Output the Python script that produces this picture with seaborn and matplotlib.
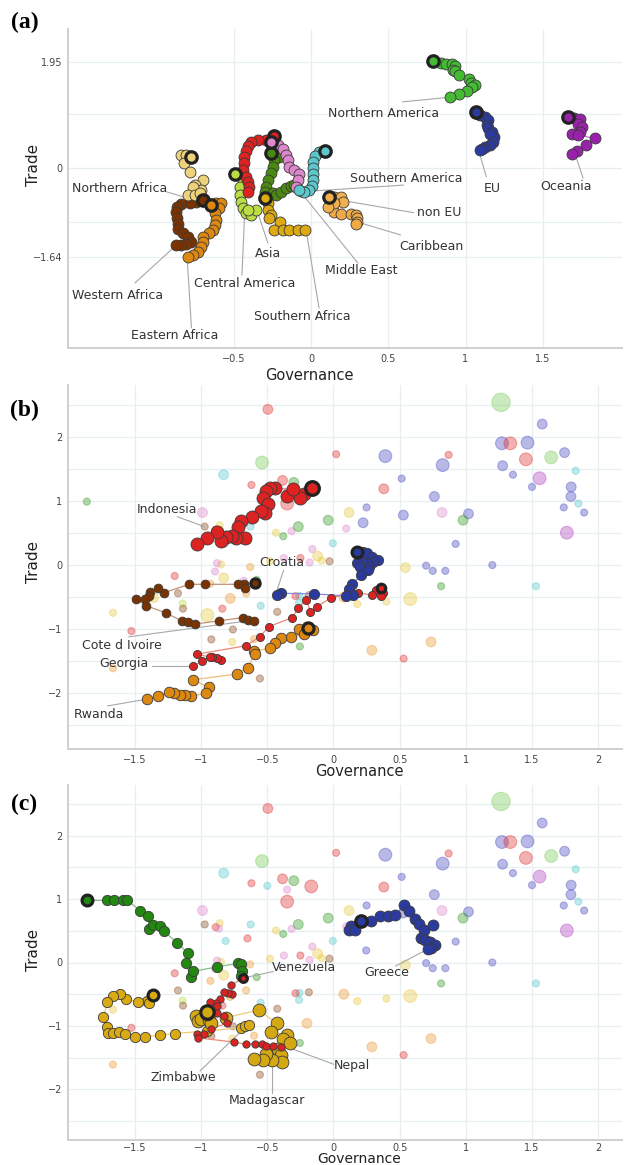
import numpy as np
import pandas as pd
import matplotlib
matplotlib.use("Agg")
import matplotlib.pyplot as plt
import seaborn as sns

sns.set_theme(style="white")
plt.rcParams['font.family'] = ['DejaVu Sans']

# ---------------- Panel (a): regional trajectories ----------------
na_x = [0.79, 0.84, 0.875, 0.914, 0.93, 0.92, 0.935, 0.96, 1.02, 1.037, 1.063, 1.043, 1.01, 0.96, 0.90]
na_y = [1.97, 1.93, 1.91, 1.91, 1.875, 1.80, 1.78, 1.71, 1.64, 1.57, 1.53, 1.49, 1.415, 1.36, 1.31]
eu_x = [1.069, 1.08, 1.097, 1.129, 1.144, 1.14, 1.148, 1.172, 1.183, 1.16, 1.179, 1.161, 1.129, 1.11, 1.097]
eu_y = [1.024, 1.0, 0.974, 0.943, 0.882, 0.79, 0.735, 0.667, 0.575, 0.62, 0.483, 0.423, 0.386, 0.36, 0.331]
oc_x = [1.662, 1.70, 1.742, 1.731, 1.753, 1.742, 1.688, 1.731, 1.839, 1.781, 1.72, 1.688]
oc_y = [0.943, 0.93, 0.913, 0.82, 0.76, 0.667, 0.637, 0.607, 0.546, 0.423, 0.318, 0.257]
sam_x = [0.09, 0.05, 0.026, 0.013, 0.013, 0.013, 0.013, 0.006, -0.013, -0.045, -0.077]
sam_y = [0.32, 0.29, 0.22, 0.11, 0.0, -0.11, -0.22, -0.33, -0.40, -0.44, -0.40]
me_x = [-0.258, -0.215, -0.183, -0.16, -0.15, -0.14, -0.108, -0.075, -0.086, -0.097, -0.065]
me_y = [0.483, 0.42, 0.36, 0.24, 0.147, 0.024, -0.037, -0.10, -0.22, -0.34, -0.43]
dg_x = [-0.258, -0.205, -0.237, -0.247, -0.258, -0.28, -0.29, -0.30, -0.247, -0.226, -0.194, -0.161, -0.129, -0.108]
dg_y = [0.276, 0.208, 0.147, 0.024, -0.098, -0.22, -0.343, -0.435, -0.466, -0.496, -0.435, -0.373, -0.331, -0.312]
as_x = [-0.239, -0.29, -0.342, -0.387, -0.406, -0.419, -0.432, -0.435, -0.439, -0.419, -0.406, -0.40, -0.406]
as_y = [0.588, 0.515, 0.515, 0.478, 0.404, 0.312, 0.202, 0.092, -0.037, -0.16, -0.257, -0.35, -0.44]
ca_x = [-0.495, -0.452, -0.44, -0.462, -0.462, -0.452, -0.44, -0.42, -0.387, -0.355, -0.41]
ca_y = [-0.11, -0.13, -0.22, -0.34, -0.50, -0.62, -0.74, -0.83, -0.86, -0.77, -0.77]
saf_x = [-0.30, -0.28, -0.28, -0.258, -0.269, -0.2, -0.237, -0.18, -0.14, -0.086, -0.039]
saf_y = [-0.557, -0.65, -0.77, -0.86, -0.92, -0.99, -1.14, -1.14, -1.13, -1.13, -1.13]
naf_x = [-0.78, -0.84, -0.81, -0.82, -0.785, -0.70, -0.753, -0.71, -0.763, -0.796, -0.753, -0.72]
naf_y = [0.197, 0.24, 0.25, 0.086, -0.07, -0.22, -0.31, -0.40, -0.34, -0.50, -0.50, -0.45]
waf_x = [-0.699, -0.742, -0.785, -0.839, -0.865, -0.871, -0.865, -0.86, -0.858, -0.828, -0.794, -0.774, -0.806, -0.839, -0.871]
waf_y = [-0.588, -0.625, -0.65, -0.66, -0.72, -0.81, -0.92, -1.02, -1.12, -1.20, -1.26, -1.355, -1.40, -1.415, -1.415]
eaf_x = [-0.65, -0.613, -0.58, -0.594, -0.624, -0.613, -0.624, -0.634, -0.658, -0.699, -0.699, -0.71, -0.731, -0.763, -0.795]
eaf_y = [-0.68, -0.643, -0.65, -0.735, -0.833, -0.956, -1.048, -1.14, -1.195, -1.263, -1.355, -1.447, -1.539, -1.60, -1.64]
neu_x = [0.118, 0.15, 0.194, 0.204, 0.15, 0.108]
neu_y = [-0.527, -0.527, -0.527, -0.62, -0.65, -0.71]
car_x = [0.15, 0.194, 0.258, 0.29, 0.30, 0.30, 0.29]
car_y = [-0.80, -0.846, -0.846, -0.86, -0.925, -0.99, -1.02]

# ---------------- Background countries (panels b, c) ----------------
bg_x = [1.266, 1.577, 1.273, 1.336, 1.466, 1.454, 1.645, 1.746, 1.278, 1.356, 1.557, 1.83, 1.50, 1.796, 1.794,
        1.85, 1.74, 1.894, 1.763, 0.02, 0.392, 0.87, 0.825, 0.515, 0.38, 0.762, 0.25, 0.118, 0.528, 0.82,
        1.02, 0.979, -0.04, 0.224, 0.096, -0.005, 0.923, -0.16, -0.12, -0.09, -0.18, -0.03, -0.496, -0.54, -0.83,
        -0.62, -0.385, -0.30, -0.50, -0.35, -1.864, -0.99, -0.973, -0.86, -0.626, -0.435, -0.38, -0.317, -0.266, -0.815,
        -0.65, -0.375, -0.25, -0.85, -0.88, -0.63, -0.168, -0.35, -0.89, -0.865, -1.2, -0.895, -0.83, -0.677, -0.58,
        -0.93, -1.175, -1.36, -0.78, -0.66, -1.14, -1.137, -0.55, -0.84, -0.425, -1.666, -0.953, -1.527, -0.76, -0.923,
        -0.765, -0.60, -0.254, -1.666, -0.556, -0.257, -0.287, -0.26, 0.543, 0.70, 0.75, 0.845, 1.20, 0.813, 1.53,
        0.078, 0.18, 0.40, 0.58, 0.737, 0.29, 0.53, 0.247, -0.48, -0.186, -0.2]
bg_y = [2.54, 2.20, 1.90, 1.90, 1.91, 1.65, 1.68, 1.755, 1.55, 1.41, 1.355, 1.47, 1.22, 1.22, 1.07,
        0.96, 0.90, 0.82, 0.505, 1.73, 1.70, 1.72, 1.56, 1.35, 1.19, 1.07, 0.90, 0.82, 0.78, 0.82,
        0.80, 0.70, 0.70, 0.66, 0.57, 0.34, 0.33, 0.25, 0.14, 0.07, 0.04, 0.06, 2.43, 1.60, 1.41,
        1.25, 1.32, 1.29, 1.21, 0.96, 0.99, 0.82, 0.60, 0.62, 0.60, 0.505, 0.45, 0.53, 0.60, 0.34,
        0.38, 0.11, 0.11, 0.01, 0.03, -0.03, 1.20, 1.15, 0.556, 0.535, -0.17, -0.10, -0.20, -0.245, -0.23,
        -0.29, -0.44, -0.51, -0.52, -0.44, -0.60, -0.68, -0.635, -0.68, -0.73, -0.745, -0.78, -1.03, -1.005, -1.16,
        -1.20, -1.155, -1.27, -1.61, -1.77, -0.48, -0.485, -0.59, -0.04, -0.01, -0.09, -0.09, 0.0, -0.33, -0.33,
        -0.50, -0.61, -0.57, -0.53, -1.20, -1.33, -1.46, 0.19, 0.06, -0.47, -0.96]
bg_c = ['lgreen', 'blue', 'blue', 'red', 'blue', 'red', 'lgreen', 'blue', 'blue', 'blue', 'magenta', 'cyan', 'blue', 'blue', 'blue',
        'cyan', 'blue', 'blue', 'magenta', 'red', 'blue', 'red', 'blue', 'blue', 'red', 'blue', 'blue', 'yellow', 'blue', 'pink',
        'blue', 'green', 'green', 'blue', 'pink', 'cyan', 'blue', 'pink', 'yellow', 'yellow', 'pink', 'tan', 'red', 'lgreen', 'cyan',
        'red', 'red', 'green', 'cyan', 'red', 'green', 'pink', 'tan', 'yellow', 'cyan', 'yellow', 'green', 'pink', 'green', 'cyan',
        'red', 'pink', 'red', 'yellow', 'pink', 'orange', 'red', 'pink', 'red', 'pink', 'red', 'pink', 'yellow', 'pink', 'green',
        'orange', 'tan', 'yellow', 'orange', 'orange', 'lime', 'tan', 'cyan', 'red', 'tan', 'yellow', 'yellow', 'red', 'tan', 'tan',
        'yellow', 'orange', 'green', 'orange', 'tan', 'cyan', 'red', 'cyan', 'yellow', 'blue', 'blue', 'blue', 'blue', 'green', 'cyan',
        'orange', 'yellow', 'yellow', 'yellow', 'orange', 'orange', 'red', 'blue', 'yellow', 'tan', 'orange']
bg_s = [4, 2, 3, 3, 3, 3, 3, 2, 2, 1, 3, 1, 1, 2, 2,
        1, 1, 1, 3, 1, 3, 1, 3, 1, 2, 2, 1, 2, 2, 2,
        2, 2, 2, 2, 1, 1, 1, 1, 2, 1, 1, 1, 2, 3, 2,
        1, 2, 2, 1, 3, 1, 2, 1, 1, 1, 1, 1, 1, 2, 1,
        1, 1, 1, 1, 1, 1, 3, 1, 1, 1, 1, 1, 2, 1, 1,
        1, 1, 2, 2, 1, 1, 1, 1, 1, 1, 1, 3, 1, 1, 1,
        1, 1, 1, 1, 1, 1, 1, 1, 2, 1, 1, 1, 1, 1, 1,
        2, 1, 1, 3, 2, 2, 1, 1, 1, 1, 2]

# ---------------- Panel (b): countries ----------------
ind_x = [-0.16, -0.224, -0.254, -0.35, -0.307, -0.445, -0.48, -0.508, -0.53, -0.493, -0.518, -0.55, -0.614, -0.697, -0.72, -0.67, -0.74, -0.77, -0.81, -0.853, -0.883, -0.958, -1.034]
ind_y = [1.20, 1.11, 1.04, 1.08, 1.18, 1.20, 1.21, 1.16, 1.04, 0.96, 0.82, 0.85, 0.745, 0.69, 0.60, 0.43, 0.43, 0.46, 0.44, 0.375, 0.52, 0.42, 0.33]
cr_x = [0.18, 0.22, 0.254, 0.29, 0.34, 0.30, 0.25, 0.217, 0.18, 0.20, 0.27, 0.26, 0.21, 0.14, 0.115, 0.146, 0.096, -0.149, -0.40, -0.43]
cr_y = [0.21, 0.20, 0.19, 0.12, 0.08, 0.05, 0.04, 0.05, 0.035, -0.03, -0.03, -0.08, -0.16, -0.30, -0.38, -0.46, -0.48, -0.45, -0.44, -0.46]
ci_x = [-0.596, -0.677, -0.67, -0.722, -0.97, -1.09, -1.28, -1.326, -1.386, -1.394, -1.424, -1.49, -1.414, -1.268, -1.147, -1.097, -1.047, -0.866, -0.684, -0.644, -0.60]
ci_y = [-0.275, -0.30, -0.365, -0.30, -0.30, -0.30, -0.43, -0.365, -0.415, -0.48, -0.535, -0.535, -0.635, -0.745, -0.87, -0.895, -0.92, -0.87, -0.82, -0.85, -0.875]
ge_x = [0.362, 0.372, 0.36, 0.325, 0.29, 0.186, 0.14, -0.017, -0.128, -0.174, -0.204, -0.266, -0.312, -0.488, -0.558, -0.664, -1.03, -0.848, -0.883, -0.916, -0.936, -0.996, -1.062]
ge_y = [-0.365, -0.43, -0.485, -0.39, -0.47, -0.43, -0.44, -0.51, -0.65, -0.73, -0.545, -0.67, -0.82, -0.96, -1.12, -1.26, -1.39, -1.475, -1.45, -1.43, -1.43, -1.50, -1.58]
rw_x = [-0.194, -0.156, -0.219, -0.262, -0.224, -0.32, -0.40, -0.443, -0.483, -0.60, -0.596, -0.647, -0.732, -1.06, -0.94, -0.966, -1.08, -1.12, -1.16, -1.205, -1.243, -1.323, -1.406]
rw_y = [-0.975, -1.02, -1.04, -0.99, -1.08, -1.13, -1.145, -1.22, -1.30, -1.34, -1.395, -1.60, -1.70, -1.79, -1.91, -2.0, -2.05, -2.03, -2.02, -2.0, -1.98, -2.04, -2.09]

# ---------------- Panel (c): countries ----------------
ve_x = [-1.864, -1.713, -1.658, -1.587, -1.557, -1.462, -1.40, -1.394, -1.36, -1.31, -1.28, -1.18, -1.10, -1.117, -1.08, -1.059, -0.883, -0.72, -0.697, -0.689, -0.697]
ve_y = [0.98, 0.98, 0.98, 0.98, 0.98, 0.82, 0.73, 0.53, 0.59, 0.57, 0.49, 0.31, 0.15, 0.0, -0.225, -0.14, -0.07, -0.015, -0.03, -0.14, -0.215]
gr_x = [0.211, 0.136, 0.12, 0.166, 0.287, 0.35, 0.41, 0.463, 0.53, 0.574, 0.614, 0.647, 0.687, 0.75, 0.664, 0.694, 0.732, 0.77, 0.74, 0.712]
gr_y = [0.65, 0.58, 0.51, 0.52, 0.65, 0.73, 0.73, 0.745, 0.90, 0.82, 0.69, 0.61, 0.51, 0.59, 0.38, 0.36, 0.32, 0.27, 0.23, 0.215]
zw_x = [-1.364, -1.406, -1.394, -1.477, -1.565, -1.613, -1.663, -1.708, -1.738, -1.713, -1.70, -1.663, -1.62, -1.577, -1.502, -1.426, -1.31, -1.20, -0.953, -0.70, -0.67, -0.64]
zw_y = [-0.52, -0.61, -0.635, -0.62, -0.58, -0.49, -0.53, -0.625, -0.855, -1.01, -1.11, -1.11, -1.09, -1.12, -1.175, -1.17, -1.145, -1.12, -1.08, -1.03, -1.0, -0.99]
md_x = [-0.958, -1.04, -1.027, -1.004, -0.94, -0.928, -0.953, -0.815, -0.564, -0.43, -0.47, -0.355, -0.38, -0.325, -0.42, -0.40, -0.387, -0.463, -0.508, -0.534, -0.60]
md_y = [-0.78, -0.845, -0.925, -0.885, -0.90, -0.95, -0.82, -0.87, -0.75, -0.96, -1.10, -1.15, -1.21, -1.275, -1.37, -1.465, -1.57, -1.54, -1.45, -1.54, -1.52]
ne_x = [-0.68, -0.772, -0.765, -0.80, -0.83, -0.858, -0.89, -0.934, -0.878, -0.878, -0.83, -0.808, -0.928, -0.979, -1.034, -1.02, -0.752, -0.659, -0.596, -0.538, -0.513, -0.458, -0.395]
ne_y = [-0.24, -0.36, -0.50, -0.48, -0.47, -0.57, -0.635, -0.625, -0.69, -0.80, -0.845, -0.96, -1.045, -1.135, -1.12, -1.19, -1.255, -1.29, -1.28, -1.28, -1.32, -1.32, -1.33]

# ---------------- labels ----------------
a_labels = ["Northern America", "EU", "Oceania", "Southern America", "non EU", "Caribbean", "Middle East",
            "Southern Africa", "Asia", "Central America", "Western Africa", "Eastern Africa", "Northern Africa"]
a_text_xy = [(0.471, 1.011), (1.174, -0.368), (1.652, -0.331), (0.619, -0.184), (0.832, -0.809), (0.78, -1.434),
             (0.323, -1.893), (-0.058, -2.739), (-0.277, -1.5625), (-0.432, -2.132), (-1.252, -2.353),
             (-0.884, -3.088), (-1.239, -0.368)]
a_line = [((0.592, 1.219), (0.882, 1.30)), ((1.135, -0.16), (1.09, 0.276)), ((1.761, -0.184), (1.716, 0.202)),
          ((0.60, -0.3125), (0.02, -0.42)), ((0.665, -0.82), (0.213, -0.60)), ((0.58, -1.23), (0.323, -1.011)),
          ((0.303, -1.746), (-0.077, -0.404)), ((0.052, -2.574), (-0.032, -1.14)), ((-0.279, -1.379), (-0.344, -0.827)),
          ((-0.447, -1.967), (-0.43, -0.864)), ((-1.14, -2.114), (-0.892, -1.47)), ((-0.774, -2.94), (-0.8, -1.728)),
          ((-0.935, -0.436), (-0.828, -0.528))]
b_labels = ["Indonesia", "Croatia", "Cote d Ivoire", "Georgia", "Rwanda"]
b_text_xy = [(-1.257, 0.875), (-0.392, 0.047), (-1.6, -1.25), (-1.585, -1.53), (-1.774, -2.328)]
b_line = [((-1.18, 0.755), (-0.974, 0.598)), ((-0.377, -0.078), (-0.43, -0.417)), ((-1.547, -1.12), (-0.702, -0.886)),
          ((-1.368, -1.578), (-1.092, -1.578)), ((-1.708, -2.198), (-1.426, -2.098))]
c_labels = ["Venezuela", "Greece", "Zimbabwe", "Madagascar", "Nepal"]
c_text_xy = [(-0.226, -0.079), (0.40, -0.157), (-1.132, -1.811), (-0.506, -2.173), (0.141, -1.622)]
c_line = [((-0.453, -0.142), (-0.664, -0.236)), ((0.468, -0.058), (0.707, 0.205)), ((-1.009, -1.712), (-0.677, -1.044)),
          ((-0.463, -2.052), (-0.463, -1.58)), ((0.002, -1.606), (-0.337, -1.343))]

a_yticks = [-1.64, 0, 1.95]
a_yticklabels = ["\u22121.64", "0", "1.95"]
a_xticks = [-0.5, 0, 0.5, 1, 1.5]
a_xticklabels = ["\u22120.5", "0", "0.5", "1", "1.5"]
bc_xticks = [-1.5, -1, -0.5, 0, 0.5, 1, 1.5, 2]
bc_xticklabels = ["\u22121.5", "\u22121", "\u22120.5", "0", "0.5", "1", "1.5", "2"]
bc_yticks = [-2, -1, 0, 1, 2]
bc_yticklabels = ["\u22122", "\u22121", "0", "1", "2"]

# ---------------- figure ----------------
W, H = 624, 1165
fig = plt.figure(figsize=(W / 100, H / 100), dpi=100)


def rect(l, t, r, b):
    return [l / W, 1 - b / H, (r - l) / W, (b - t) / H]


axA = fig.add_axes(rect(68, 29, 622, 348))
axB = fig.add_axes(rect(68, 385, 622, 749))
axC = fig.add_axes(rect(68, 785, 622, 1140))

GRID = '#e7eff1'


def style(ax, xlim, ylim, xgrid, ygrid, xt, xtl, yt, ytl, xpad=4):
    ax.set_xlim(xlim)
    ax.set_ylim(ylim)
    for s in ['top', 'right']:
        ax.spines[s].set_visible(False)
    for s in ['left', 'bottom']:
        ax.spines[s].set_color('#cfcfcf')
        ax.spines[s].set_linewidth(1.4)
    for g in xgrid:
        ax.axvline(g, color=GRID, lw=0.9, zorder=0)
    for g in ygrid:
        ax.axhline(g, color=GRID, lw=0.9, zorder=0)
    ax.set_xticks(xt)
    ax.set_xticklabels(xtl, fontsize=7, color='#444444')
    ax.set_yticks(yt)
    ax.set_yticklabels(ytl, fontsize=7, color='#444444')
    ax.tick_params(axis='y', length=0, pad=4)
    ax.tick_params(axis='x', length=0, pad=xpad)
    ax.set_xlabel('')
    ax.set_ylabel('')
    ax.set_facecolor('white')


def traj(ax, xs, ys, color, s, lc=None, lw=0.9, ring=True):
    df = pd.DataFrame({'x': xs, 'y': ys})
    if lc is not None:
        sns.lineplot(data=df, x='x', y='y', sort=False, estimator=None, color=lc, lw=lw, ax=ax, zorder=3)
    sns.scatterplot(data=df, x='x', y='y', color=color, s=s, edgecolor='#3a3a3a', linewidth=0.6,
                    ax=ax, zorder=4, legend=False)
    if ring:
        sns.scatterplot(data=df.iloc[:1], x='x', y='y', color=color, s=s * 1.1, edgecolor='#222222',
                        linewidth=2.3, ax=ax, zorder=6, legend=False)


def annotate(ax, labels, txy, lines):
    for lab, (tx, ty), ((x0, y0), (x1, y1)) in zip(labels, txy, lines):
        ax.plot([x0, x1], [y0, y1], color='#a8a8a8', lw=0.8, zorder=2)
        ax.text(tx, ty, lab, ha='center', va='center', fontsize=9, color='#333333', zorder=7)


# ----- Panel (a)
SA = 62
traj(axA, waf_x, waf_y, '#7a3300', SA, lc='#b07050')
traj(axA, eaf_x, eaf_y, '#dd8811', SA, lc='#eeaa66')
traj(axA, naf_x, naf_y, '#eed27a', SA, lc='#f2dd99')
traj(axA, saf_x, saf_y, '#ddaa11', SA, lc='#eecc66')
traj(axA, ca_x, ca_y, '#bbdd44', SA, lc='#d4ea88')
traj(axA, dg_x, dg_y, '#4a8a10', SA, lc='#88bb66')
traj(axA, as_x, as_y, '#dd2222', SA, lc='#ee7777')
traj(axA, me_x, me_y, '#dd88cc', SA, lc='#eeaadd')
traj(axA, sam_x, sam_y, '#5cc8cc', SA, lc='#99dddd')
traj(axA, car_x, car_y, '#efaa45', SA, lc='#f5cc88', ring=False)
traj(axA, neu_x, neu_y, '#f0b050', SA, lc='#f5cc88')
traj(axA, na_x, na_y, '#44bb33', SA, lc='#88dd77')
traj(axA, eu_x, eu_y, '#2b3a9e', SA, lc='#7777cc')
traj(axA, oc_x, oc_y, '#9922aa', SA, lc='#cc66dd')
annotate(axA, a_labels, a_text_xy, a_line)
style(axA, (-1.573, 2.013), (-3.31, 2.56), a_xticks, [1.95, 1, 0, -1, -1.64],
      a_xticks, a_xticklabels, a_yticks, a_yticklabels)

# ----- Background for (b) and (c)
pal = {'blue': '#4848c0', 'red': '#e03030', 'lgreen': '#77cc55', 'green': '#339922', 'yellow': '#e8c840',
       'pink': '#dd88cc', 'cyan': '#55c8cc', 'tan': '#8a4a20', 'orange': '#ee9933', 'magenta': '#b040c0',
       'lime': '#bbdd44'}
bg_df = pd.DataFrame({'x': bg_x, 'y': bg_y, 'c': bg_c, 's': bg_s})
for ax in (axB, axC):
    sns.scatterplot(data=bg_df, x='x', y='y', hue='c', palette=pal, size='s',
                    sizes={1: 26, 2: 50, 3: 85, 4: 175}, alpha=0.38, edgecolor='face', linewidth=0.8,
                    ax=ax, legend=False, zorder=1)

# ----- Panel (b)
traj(axB, ci_x, ci_y, '#7a3300', 40, lc='#c09070')
traj(axB, rw_x, rw_y, '#dd8811', 58, lc='#f2bb77')
traj(axB, ge_x, ge_y, '#dd2222', 34, lc='#ee8877')
traj(axB, cr_x, cr_y, '#2b3a9e', 55, lc='#8888dd')
traj(axB, ind_x, ind_y, '#dd2222', 88, lc='#ee7777')
annotate(axB, b_labels, b_text_xy, b_line)
grid_bc_x = [-1.5, -1, -0.5, 0, 0.5, 1, 1.5, 2]
grid_bc_y = [-2.5, -2, -1.5, -1, -0.5, 0, 0.5, 1, 1.5, 2, 2.5]
style(axB, (-2.006, 2.18), (-2.87, 2.81), grid_bc_x, grid_bc_y,
      bc_xticks, bc_xticklabels, bc_yticks, bc_yticklabels)

# ----- Panel (c)
traj(axC, zw_x, zw_y, '#d9aa14', 55, lc='#eecc77')
traj(axC, md_x, md_y, '#d4a812', 85, lc='#eecc77')
traj(axC, ve_x, ve_y, '#228811', 55, lc='#88bb88')
traj(axC, ne_x, ne_y, '#dd2222', 28, lc='#ee8877')
traj(axC, gr_x, gr_y, '#2b3a9e', 62, lc='#8888cc')
annotate(axC, c_labels, c_text_xy, c_line)
style(axC, (-2.006, 2.18), (-2.80, 2.80), grid_bc_x, grid_bc_y,
      bc_xticks, bc_xticklabels, bc_yticks, bc_yticklabels, xpad=2)

# ----- axis titles and panel letters
def ftext(px, py, s, **kw):
    fig.text(px / W, 1 - py / H, s, **kw)

for (px, py, fs) in [(309, 376, 10.5), (359, 772, 10.5), (359, 1159, 10)]:
    ftext(px, py, "Governance", ha='center', va='center', fontsize=fs, color='#222222')
for (px, py) in [(34, 165), (34, 562), (34, 950)]:
    ftext(px, py, "Trade", ha='center', va='center', fontsize=11, rotation=90, color='#222222')
for (px, py, s) in [(11, 22, "(a)"), (10, 410, "(b)"), (11, 804, "(c)")]:
    ftext(px, py, s, ha='left', va='center', fontsize=17, fontweight='bold',
          family='Liberation Serif', color='black')

fig.savefig("out.png", dpi=100)
